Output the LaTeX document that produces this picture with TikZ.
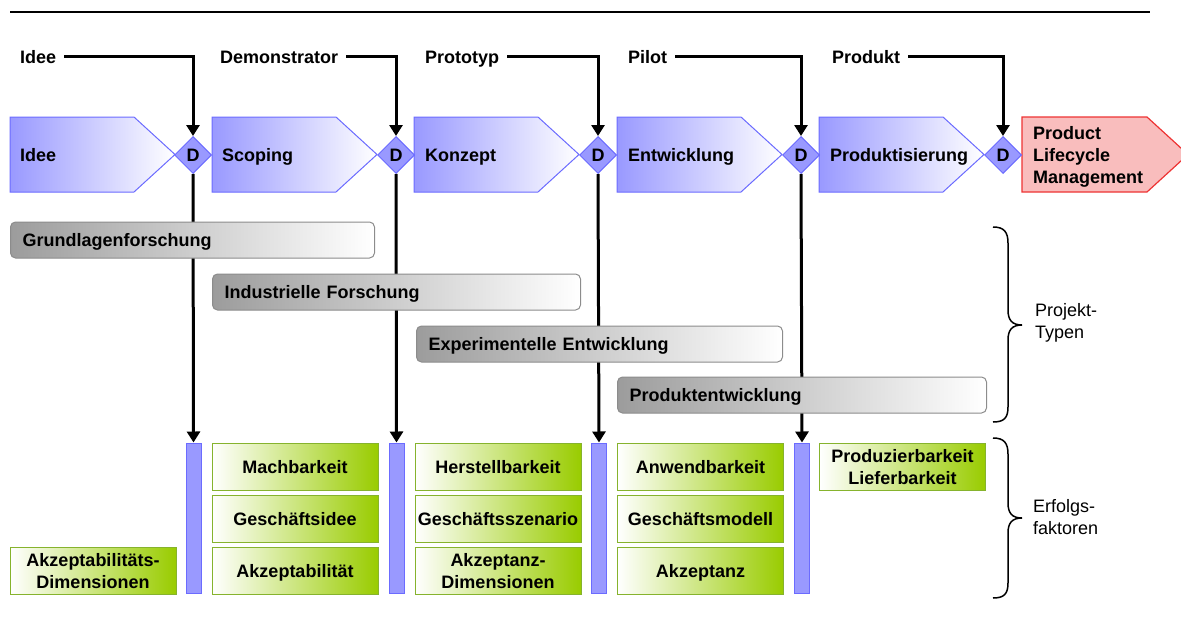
\documentclass[tikz,border=0pt]{standalone}
\usepackage{fontspec}
\setmainfont{Liberation Sans}
\usetikzlibrary{shapes.geometric,arrows.meta}

\definecolor{phaseblue}{HTML}{9999FF}
\definecolor{phaseline}{HTML}{6B6BFF}
\definecolor{plmfill}{HTML}{F9BDBD}
\definecolor{plmline}{HTML}{EE3333}
\definecolor{greenfill}{HTML}{99CC00}
\definecolor{greenline}{HTML}{86B32D}
\definecolor{grayfill}{HTML}{9C9C9C}
\definecolor{grayline}{HTML}{8C8C8C}

\begin{document}
\begin{tikzpicture}[x=1pt,y=-1pt,
  font=\fontsize{18}{22}\selectfont,
  boldtext/.style={font=\fontsize{18}{22}\selectfont\bfseries},
  phase/.style={draw=phaseline,line width=1pt,left color=phaseblue,right color=white},
  plm/.style={draw=plmline,line width=1.2pt,fill=plmfill},
  phasetext/.style={boldtext,anchor=west,inner sep=0pt,text height=13pt,text depth=0pt},
  plmtext/.style={boldtext,anchor=west,inner sep=0pt,text depth=0pt,align=left},
  gate/.style={diamond,draw=phaseline,line width=1pt,fill=phaseblue,
    minimum width=37pt,minimum height=37pt,inner sep=0pt,boldtext},
  gatebar/.style={rectangle,draw=phaseline,line width=1pt,fill=phaseblue,
    minimum width=15pt,minimum height=150pt,inner sep=0pt},
  milestone/.style={boldtext,anchor=west,inner xsep=8pt,inner ysep=0pt,
    text height=13pt,text depth=0pt},
  conn/.style={line width=3pt,-{Triangle[width=13pt,length=11pt]}},
  ptype/.style={boldtext,rectangle,rounded corners=5pt,draw=grayline,line width=1pt,
    left color=grayfill,right color=white,minimum height=36pt,anchor=west,
    inner xsep=12pt,inner ysep=0pt,align=left,text height=13pt,text depth=0pt},
  factor/.style={boldtext,rectangle,draw=greenline,line width=1pt,
    left color=white,right color=greenfill,minimum width=166pt,minimum height=47pt,
    inner sep=0pt,align=center,text depth=0pt},
  brace/.style={line width=1.5pt},
  bracetext/.style={anchor=west,align=left,inner sep=0pt,text depth=0pt}
]
\useasboundingbox (0,0) rectangle (1181,626);

% top rule
\draw[line width=2pt] (10,12) -- (1150,12);

% phases (chevrons)
\foreach \x/\tx/\lbl [count=\i] in {10/20/Idee, 212/222/Scoping, 414/425/Konzept,
                                     617/628/Entwicklung, 819/830/Produktisierung} {
  \path[phase] (\x,117) -- ++(124,0) -- ++(41,37.5) -- ++(-41,37.5) -- ++(-124,0) -- cycle;
  \node[phasetext] (ph\i) at (\tx,155) {\lbl};
}
\path[plm] (1022,117) -- (1147,117) -- (1188,154.5) -- (1147,192) -- (1022,192) -- cycle;
\node[plmtext] (plm) at (1033,155) {Product\\Lifecycle\\Management};

% decision gates and gate bars
\foreach \x [count=\i] in {193,396,598,801,1003} {
  \node[gate] (d\i) at (\x,155) {D};
}
\foreach \x [count=\i] in {193.5,396.5,599,802} {
  \node[gatebar] (b\i) at (\x,518) {};
}

% milestones
\node[milestone] (m1) at (12,57)  {Idee};
\node[milestone] (m2) at (212,57) {Demonstrator};
\node[milestone] (m3) at (417,57) {Prototyp};
\node[milestone] (m4) at (620,57) {Pilot};
\node[milestone] (m5) at (824,57) {Produkt};

% connectors
\foreach \i in {1,...,5} {
  \draw[conn] (m\i.east) -| (d\i.north);
}
\foreach \i in {1,...,4} {
  \draw[conn] (d\i.south) -- (b\i.north);
}

% project types
\node[ptype,minimum width=364pt,text width=340pt] (g1) at (10,240)  {Grundlagenforschung};
\node[ptype,minimum width=368pt,text width=344pt] (g2) at (212,292) {Industrielle Forschung};
\node[ptype,minimum width=366pt,text width=342pt] (g3) at (416,344) {Experimentelle Entwicklung};
\node[ptype,minimum width=369pt,text width=345pt] (g4) at (617,395) {Produktentwicklung};

% success factors
\node[factor] (f0)  at (93,570.5)    {Akzeptabilitäts-\\Dimensionen};
\node[factor] (f11) at (295,466.5)   {Machbarkeit};
\node[factor] (f12) at (295,518.5)   {Geschäftsidee};
\node[factor] (f13) at (295,570.5)   {Akzeptabilität};
\node[factor] (f21) at (498,466.5)   {Herstellbarkeit};
\node[factor] (f22) at (498,518.5)   {Geschäftsszenario};
\node[factor] (f23) at (498,570.5)   {Akzeptanz-\\Dimensionen};
\node[factor] (f31) at (700.5,466.5) {Anwendbarkeit};
\node[factor] (f32) at (700.5,518.5) {Geschäftsmodell};
\node[factor] (f33) at (700.5,570.5) {Akzeptanz};
\node[factor] (f41) at (902.5,466.5) {Produzierbarkeit\\Lieferbarkeit};

% braces
\draw[brace] (993,227) .. controls (1004,227) and (1008,232) .. (1008,243)
  -- (1008,310) .. controls (1008,320) and (1012,325) .. (1022,325)
  .. controls (1012,325) and (1008,330) .. (1008,340)
  -- (1008,407) .. controls (1008,418) and (1004,422) .. (993,422);
\node[bracetext] (bt1) at (1035,321) {Projekt-\\Typen};

\draw[brace] (993,438) .. controls (1004,438) and (1008,443) .. (1008,454)
  -- (1008,503) .. controls (1008,513) and (1012,518) .. (1022,518)
  .. controls (1012,518) and (1008,523) .. (1008,533)
  -- (1008,583) .. controls (1008,594) and (1004,598) .. (993,598);
\node[bracetext] (bt2) at (1033,517) {Erfolgs-\\faktoren};
\end{tikzpicture}
\end{document}
